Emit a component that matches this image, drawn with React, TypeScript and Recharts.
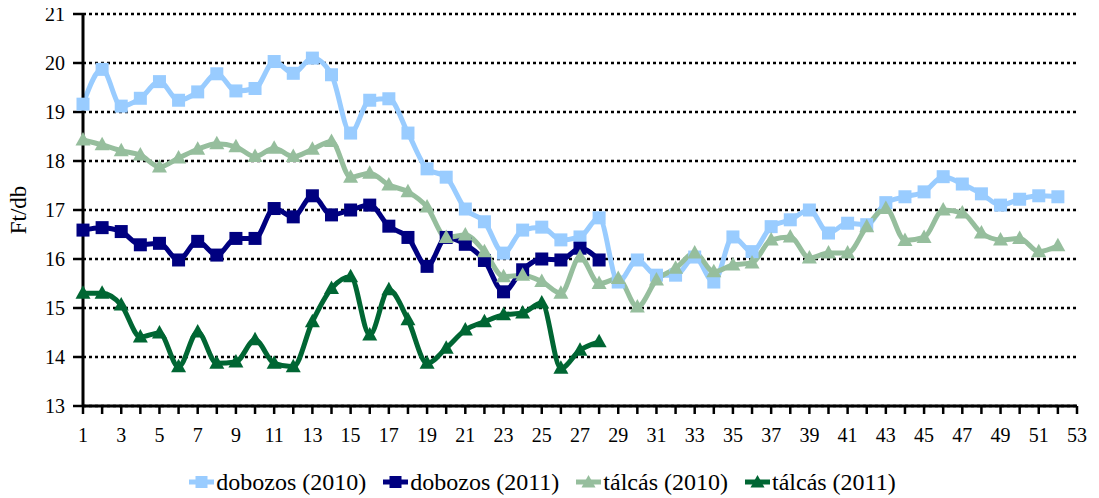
import {
  LineChart,
  Line,
  XAxis,
  YAxis,
  CartesianGrid,
  Legend,
  Label,
} from 'recharts'

// hetek (1..53)
const WEEKS = [
  1, 2, 3, 4, 5, 6, 7, 8, 9, 10, 11, 12, 13, 14, 15, 16, 17, 18, 19, 20,
  21, 22, 23, 24, 25, 26, 27, 28, 29, 30, 31, 32, 33, 34, 35, 36, 37, 38, 39, 40,
  41, 42, 43, 44, 45, 46, 47, 48, 49, 50, 51, 52, 53,
]
const Y_TICKS = [13, 14, 15, 16, 17, 18, 19, 20, 21]

const DOBOZOS_2010 = [
  19.16, 19.87, 19.12, 19.28, 19.62, 19.24, 19.41, 19.78, 19.43, 19.48,
  20.03, 19.79, 20.1, 19.76, 18.57, 19.24, 19.27, 18.57, 17.84, 17.67,
  17.02, 16.76, 16.12, 16.59, 16.65, 16.39, 16.45, 16.84, 15.53, 15.98,
  15.67, 15.67, 16.04, 15.53, 16.45, 16.15, 16.66, 16.8, 17.0, 16.53,
  16.73, 16.7, 17.15, 17.27, 17.37, 17.68, 17.53, 17.33, 17.1, 17.22,
  17.29, 17.27,
]
const DOBOZOS_2011 = [
  16.59, 16.64, 16.56, 16.29, 16.32, 15.98, 16.36, 16.08, 16.42, 16.42,
  17.03, 16.86, 17.29, 16.9, 17.0, 17.1, 16.67, 16.44, 15.85, 16.44,
  16.3, 15.97, 15.33, 15.78, 16.0, 15.98, 16.22, 15.98,
]
const TALCAS_2010 = [
  18.43, 18.33, 18.21, 18.12, 17.88, 18.06, 18.24, 18.35, 18.29, 18.09,
  18.26, 18.09, 18.24, 18.4, 17.67, 17.75, 17.51, 17.37, 17.06, 16.44,
  16.49, 16.15, 15.64, 15.67, 15.54, 15.3, 16.04, 15.5, 15.6, 15.02,
  15.57, 15.81, 16.12, 15.74, 15.88, 15.92, 16.39, 16.45, 16.02, 16.12,
  16.12, 16.66, 17.03, 16.38, 16.44, 17.0, 16.94, 16.53, 16.39, 16.42,
  16.15, 16.27,
]
const TALCAS_2011 = [
  15.3, 15.3, 15.06, 14.41, 14.49, 13.8, 14.51, 13.87, 13.9, 14.35,
  13.87, 13.8, 14.72, 15.4, 15.64, 14.45, 15.37, 14.76, 13.87, 14.18,
  14.55, 14.72, 14.86, 14.9, 15.1, 13.77, 14.14, 14.31,
]

const data = WEEKS.slice(0, 52).map((week, i) => ({
  week,
  d2010: DOBOZOS_2010[i],
  d2011: DOBOZOS_2011[i],
  t2010: TALCAS_2010[i],
  t2011: TALCAS_2011[i],
}))

const FONT = "'Liberation Serif', 'Times New Roman', serif"

const SERIES = [
  { key: 'd2010', name: 'dobozos (2010)', color: '#99CCFF', shape: 'square' },
  { key: 'd2011', name: 'dobozos (2011)', color: '#000080', shape: 'square' },
  { key: 't2010', name: 'tálcás (2010)', color: '#96BE9D', shape: 'triangle' },
  { key: 't2011', name: 'tálcás (2011)', color: '#006633', shape: 'triangle' },
]

const squareDot = (color: string) => (props: any) => {
  const { cx, cy, index } = props
  if (cx == null || cy == null || isNaN(cy)) return <g key={index} />
  return <rect key={index} x={cx - 6.5} y={cy - 6.5} width={13} height={13} fill={color} />
}

const triangleDot = (color: string) => (props: any) => {
  const { cx, cy, index } = props
  if (cx == null || cy == null || isNaN(cy)) return <g key={index} />
  return (
    <path
      key={index}
      d={`M${cx},${cy - 8} L${cx + 7.5},${cy + 5.5} L${cx - 7.5},${cy + 5.5} Z`}
      fill={color}
    />
  )
}

const XTick = (props: any) => {
  const { x, y, payload } = props
  if (payload.value % 2 === 0) return <g />
  return (
    <text
      x={x}
      y={y}
      dy="0.72em"
      textAnchor="middle"
      fill="#000"
      style={{ fontFamily: FONT, fontSize: 20 }}
    >
      {payload.value}
    </text>
  )
}

const YTick = (props: any) => {
  const { x, y, payload } = props
  return (
    <text
      x={x}
      y={y}
      dy="0.35em"
      textAnchor="end"
      fill="#000"
      style={{ fontFamily: FONT, fontSize: 20 }}
    >
      {payload.value}
    </text>
  )
}

const LegendIcon = ({ color, shape }: { color: string; shape: string }) => (
  <svg width={25} height={16} style={{ marginRight: 2 }}>
    <line x1={0} y1={8} x2={25} y2={8} stroke={color} strokeWidth={5} />
    {shape === 'square' ? (
      <rect x={6.5} y={2} width={12} height={12} fill={color} />
    ) : (
      <path d="M12.5,1 L19.5,13.5 L5.5,13.5 Z" fill={color} />
    )}
  </svg>
)

const renderLegend = () => (
  <div
    style={{
      display: 'flex',
      justifyContent: 'center',
      alignItems: 'center',
      fontFamily: FONT,
      fontSize: 24,
      color: '#000',
      lineHeight: '28px',
    }}
  >
    {SERIES.map((s, i) => (
      <div
        key={s.key}
        style={{
          display: 'flex',
          alignItems: 'center',
          marginRight: i < SERIES.length - 1 ? 17 : 0,
        }}
      >
        <LegendIcon color={s.color} shape={s.shape} />
        <span>{s.name}</span>
      </div>
    ))}
  </div>
)

export default function App() {
  return (
    <div style={{ width: 1099, height: 498, margin: '-8px 0 0 -8px', fontFamily: FONT }}>
      <LineChart
        width={1099}
        height={498}
        data={data}
        margin={{ top: 14, right: 22, bottom: 0, left: 8 }}
      >
        <CartesianGrid
          vertical={false}
          stroke="#000"
          strokeWidth={2.5}
          strokeDasharray="3 3"
        />
        <XAxis
          dataKey="week"
          type="number"
          domain={[1, 53]}
          ticks={WEEKS}
          interval={0}
          tick={<XTick />}
          axisLine={{ stroke: '#000', strokeWidth: 3 }}
          tickLine={{ stroke: '#000', strokeWidth: 2.5 }}
          tickSize={8}
          tickMargin={14}
          height={62}
        />
        <YAxis
          domain={[13, 21]}
          ticks={Y_TICKS}
          interval={0}
          tick={<YTick />}
          axisLine={{ stroke: '#000', strokeWidth: 3 }}
          tickLine={{ stroke: '#000', strokeWidth: 2.5 }}
          tickSize={10}
          tickMargin={8}
          width={75}
        >
          <Label
            value="Ft/db"
            angle={-90}
            position="insideLeft"
            offset={10}
            style={{ fill: '#000', fontSize: 23, fontFamily: FONT, textAnchor: 'middle' }}
          />
        </YAxis>
        <Legend verticalAlign="bottom" height={30} content={renderLegend} />
        {SERIES.map((s) => (
          <Line
            key={s.key}
            dataKey={s.key}
            name={s.name}
            type="monotone"
            stroke={s.color}
            strokeWidth={5}
            dot={s.shape === 'square' ? squareDot(s.color) : triangleDot(s.color)}
            activeDot={false}
            connectNulls={false}
            isAnimationActive={false}
          />
        ))}
      </LineChart>
    </div>
  )
}
